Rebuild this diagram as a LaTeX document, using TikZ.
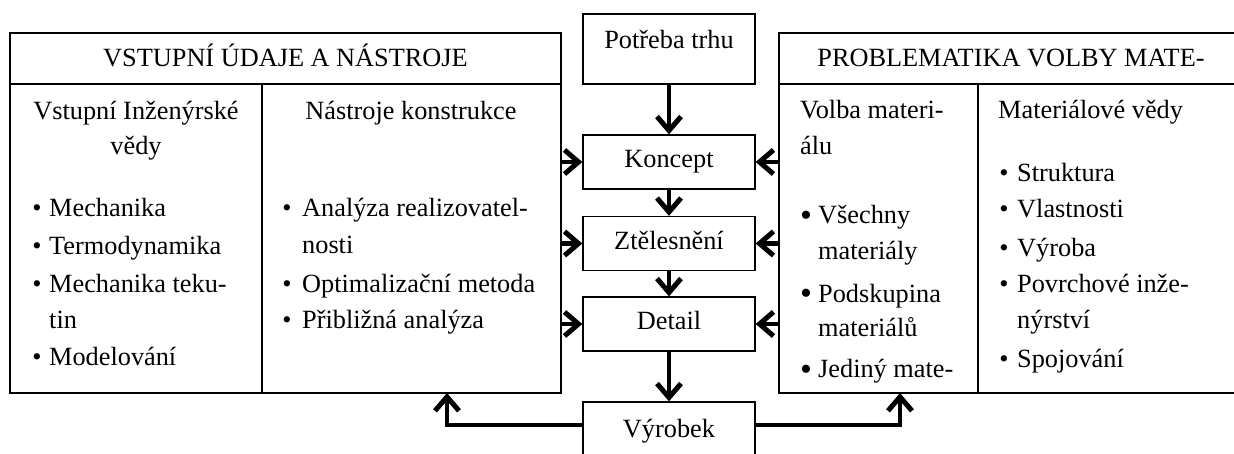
\documentclass[tikz,border=0pt]{standalone}
\usepackage{fontspec}
\setmainfont{Liberation Serif}
\usetikzlibrary{arrows.meta}

\tikzstyle{blok} = [draw, line width=1.3pt, inner sep=0pt]
\tikzstyle{krok} = [blok, minimum width=172pt, minimum height=54pt, text height=18pt, text depth=6pt, font=\fontsize{26.3pt}{37pt}\selectfont]
\tikzstyle{txt} = [anchor=base west, inner sep=0pt, font=\fontsize{26.3pt}{37pt}\selectfont]
\tikzstyle{ctxt} = [txt, anchor=base]
\tikzstyle{dot} = [ctxt]
\tikzstyle{bigdot} = [ctxt, font=\fontsize{34pt}{37pt}\selectfont]
\tikzstyle{sipka} = [line width=4.5pt, -{Straight Barb[length=14pt, width=24pt, line width=5pt]}]

\begin{document}
\begin{tikzpicture}[x=1pt, y=-1pt]
	\useasboundingbox (0,0) rectangle (1234,454);
	
	% velke bloky
	\node[blok, minimum width=551pt, minimum height=360pt] (vstup) at (285.5,213) {};
	\node[blok, minimum width=464pt, minimum height=360pt] (volba) at (1011,213) {};
	\draw[line width=1.3pt] (10,84) -- (561,84);
	\draw[line width=1.3pt] (262,84) -- (262,393);
	\draw[line width=1.3pt] (779,84) -- (1243,84);
	\draw[line width=1.3pt] (978,84) -- (978,393);
	
	% stredni sloupec
	\node[krok, text height=35pt, text depth=35pt] (need) at (669,49) {Potřeba trhu};
	\node[krok] (koncept) at (669,162) {Koncept};
	\node[krok] (telo) at (669,243.5) {Ztělesnění};
	\node[krok] (detail) at (669,324) {Detail};
	\node[krok, text height=35pt, text depth=25pt] (vyrobek) at (669,432) {Výrobek};
	
	\draw[sipka] (need) -- (koncept);
	\draw[sipka] (koncept) -- (telo);
	\draw[sipka] (telo) -- (detail);
	\draw[sipka] (detail) -- (vyrobek);
	
	\draw[sipka] (koncept.west -| vstup.east) -- (koncept.west);
	\draw[sipka] (telo.west -| vstup.east) -- (telo.west);
	\draw[sipka] (detail.west -| vstup.east) -- (detail.west);
	\draw[sipka] (koncept.east -| volba.west) -- (koncept.east);
	\draw[sipka] (telo.east -| volba.west) -- (telo.east);
	\draw[sipka] (detail.east -| volba.west) -- (detail.east);
	
	\coordinate (zpetL) at (447,393);
	\coordinate (zpetR) at (900,393);
	\draw[sipka] ([yshift=7pt]vyrobek.west) -| (zpetL);
	\draw[sipka] ([yshift=7pt]vyrobek.east) -| (zpetR);
	
	% vstupni udaje a nastroje
	\node[ctxt] (h1) at (285.5,67) {VSTUPNÍ ÚDAJE A NÁSTROJE};
	\node[ctxt] (s11) at (136,120) {Vstupní Inženýrské};
	\node[ctxt] (s12) at (136,155) {vědy};
	\node[dot] at (37,217) {•};
	\node[txt] (a1) at (49,217) {Mechanika};
	\node[dot] at (37,255) {•};
	\node[txt] (a2) at (49,255) {Termodynamika};
	\node[dot] at (37,293) {•};
	\node[txt] (a3) at (49,293) {Mechanika teku-};
	\node[txt] (a4) at (49,328) {tin};
	\node[dot] at (37,365) {•};
	\node[txt] (a5) at (49,365) {Modelování};
	
	\node[ctxt] (s2) at (411,120) {Nástroje konstrukce};
	\node[dot] at (287,217) {•};
	\node[txt] (b1) at (302,217) {Analýza realizovatel-};
	\node[txt] (b2) at (302,254) {nosti};
	\node[dot] at (287,293) {•};
	\node[txt] (b3) at (302,293) {Optimalizační metoda};
	\node[dot] at (287,328) {•};
	\node[txt] (b4) at (302,328) {Přibližná analýza};
	
	% problematika volby materialu
	\node[ctxt] (h2) at (1011,67) {PROBLEMATIKA VOLBY MATE-};
	\node[txt] (s31) at (800,119) {Volba materi-};
	\node[txt] (s32) at (800,155) {álu};
	\node[bigdot] at (806,227) {•};
	\node[txt] (c1) at (818,224) {Všechny};
	\node[txt] (c2) at (818,260) {materiály};
	\node[bigdot] at (806,305) {•};
	\node[txt] (c3) at (818,302) {Podskupina};
	\node[txt] (c4) at (818,337) {materiálů};
	\node[bigdot] at (806,380) {•};
	\node[txt] (c5) at (818,377) {Jediný mate-};
	
	\node[txt] (s4) at (998,119) {Materiálové vědy};
	\node[dot] at (1004,182) {•};
	\node[txt] (d1) at (1017,182) {Struktura};
	\node[dot] at (1004,218) {•};
	\node[txt] (d2) at (1017,218) {Vlastnosti};
	\node[dot] at (1004,257) {•};
	\node[txt] (d3) at (1017,257) {Výroba};
	\node[dot] at (1004,293) {•};
	\node[txt] (d4) at (1017,293) {Povrchové inže-};
	\node[txt] (d5) at (1017,328) {nýrství};
	\node[dot] at (1004,367) {•};
	\node[txt] (d6) at (1017,367) {Spojování};
\end{tikzpicture}
\end{document}
